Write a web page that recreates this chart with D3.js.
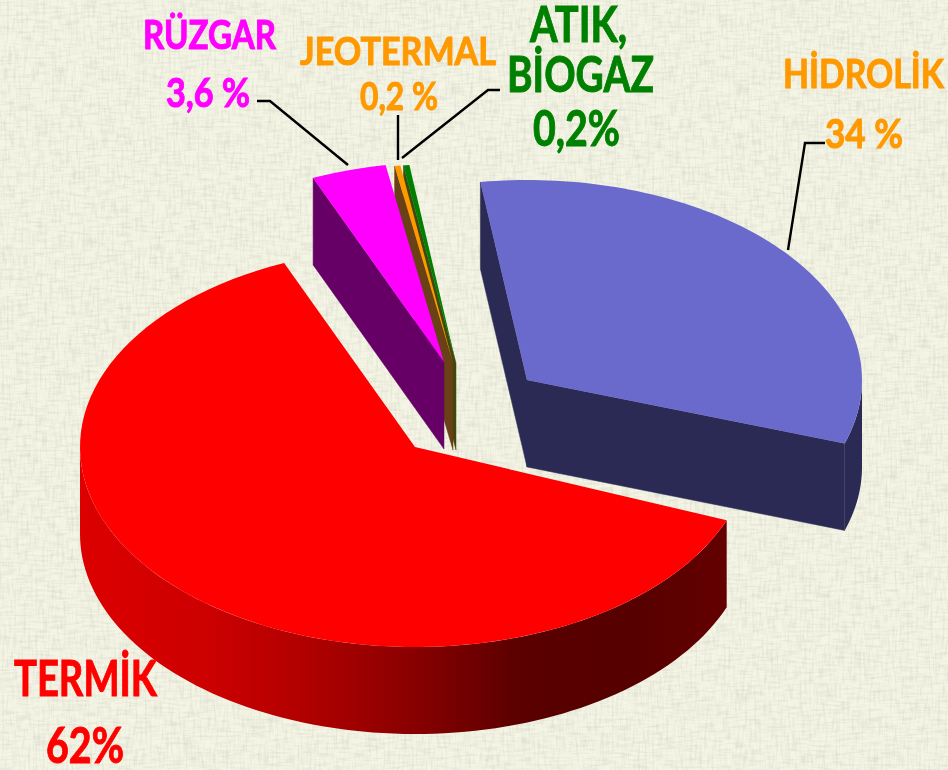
<!DOCTYPE html>
<html><head><meta charset="utf-8">
<script src="https://cdn.jsdelivr.net/npm/d3@7/dist/d3.min.js"></script>
<style>html,body{margin:0;padding:0;background:#f3f3e3}svg{display:block}text{font-family:Lato,sans-serif;font-weight:700}</style>
</head><body><svg id="c" width="948" height="770"></svg>
<script>
// ---- data ----
const categories = ["TERMİK", "RÜZGAR", "JEOTERMAL", "ATIK, BİOGAZ", "HİDROLİK"];
const values = [62, 3.6, 0.2, 0.2, 34];
const valueLabels = ["62%", "3,6 %", "0,2 %", "0,2%", "34 %"];
const topColors = ["#ff0000", "#ff00ff", "#ff9900", "#008000", "#6b6bcc"];
const sideColors = ["#800000", "#660066", "#6b3f12", "#3d4a10", "#2c2c55"];

// ---- layout ----
const W = 948, H = 770, depth = 87, rad = d3.scaleLinear().domain([0, 360]).range([0, 2 * Math.PI]);
const px = d3.scaleLinear().domain([-1, 1]).range([-335, 335]);
const py = d3.scaleLinear().domain([-1, 1]).range([-200, 200]);
const apexX = [415, 444, 453, 456, 527], apexY = [447, 362, 363, 363, 380];
// perspective of the drawing: pie angle (deg) -> drawn angle (deg)
const warp = d3.scaleLinear().domain([111.5, 334.7, 347.7, 348.4, 349.1, 471.5])
  .range([111.5, 337, 350, 351, 352, 468.5]);
const svg = d3.select("#c");
const defs = svg.append("defs");

// linen background
function weave(id, freq, seed) {
  const f = defs.append("filter").attr("id", id).attr("x", 0).attr("y", 0).attr("width", 1).attr("height", 1);
  f.append("feTurbulence").attr("type", "fractalNoise").attr("baseFrequency", freq).attr("numOctaves", 2).attr("seed", seed);
  f.append("feColorMatrix").attr("values", "0 0 0 0 0.42  0 0 0 0 0.42  0 0 0 0 0.36  2.4 0 0 0 -1.05");
}
weave("wv", "0.42 0.06", 4); weave("wh", "0.06 0.42", 9);
const soft = (id, s) => defs.append("filter").attr("id", id).attr("x", "-5%").attr("y", "-5%").attr("width", "110%").attr("height", "110%")
  .append("feGaussianBlur").attr("stdDeviation", s);
soft("soft", 0.55); soft("soft2", 0.6);
const wallGrad = defs.append("linearGradient").attr("id", "wall").attr("gradientUnits", "userSpaceOnUse")
  .attr("x1", 82).attr("x2", 728).attr("y1", 0).attr("y2", 0);
[[0, "#dc0000"], [.2, "#cc0000"], [.35, "#b00000"], [.5, "#8c0000"], [.68, "#5a0000"], [.85, "#560000"], [1, "#640000"]]
  .forEach(s => wallGrad.append("stop").attr("offset", s[0]).attr("stop-color", s[1]));

svg.append("rect").attr("width", W).attr("height", H).attr("fill", "#f5f5e6");
svg.append("rect").attr("width", W).attr("height", H).attr("filter", "url(#wv)").attr("opacity", .2);
svg.append("rect").attr("width", W).attr("height", H).attr("filter", "url(#wh)").attr("opacity", .2);

// ---- pie ----
const arcs = d3.pie().sort(null).value(d => d).startAngle(rad(111.5)).endAngle(rad(471.5))(values)
  .map(a => ({ a0: rad(warp(rad.invert(a.startAngle))), a1: rad(warp(rad.invert(a.endAngle))) }));
const line = d3.line();
const P = (i, a, dz = 0) => [apexX[i] + px(Math.sin(a)), apexY[i] - py(Math.cos(a)) + dz];
const arcPts = (i, a0, a1, dz = 0) => d3.range(0, 91).map(k => P(i, a0 + (a1 - a0) * k / 90, dz));
const apex = (i, dz = 0) => [apexX[i], apexY[i] + dz];

const g = svg.append("g").attr("filter", "url(#soft)");
// back to front
[3, 2, 1, 4, 0].forEach(i => {
  const { a0, a1 } = arcs[i];
  const s = g.append("g").datum(categories[i]);
  // a cut face shows only if it faces the viewer
  const face = a => s.append("path").attr("fill", sideColors[i]).attr("stroke", sideColors[i]).attr("stroke-width", .5)
    .attr("d", line([apex(i), P(i, a), P(i, a, depth), apex(i, depth)]) + "Z");
  if (Math.sin(a0) < 0) face(a0);
  if (Math.sin(a1) > 0) face(a1);
  // outer wall: only where the rim faces front
  [[90, 270], [450, 630]].forEach(w => {
    const v0 = Math.max(a0, rad(w[0])), v1 = Math.min(a1, rad(w[1]));
    if (v1 > v0) s.append("path").attr("fill", i === 0 ? "url(#wall)" : sideColors[i])
      .attr("d", line([...arcPts(i, v0, v1), ...arcPts(i, v1, v0, depth)]) + "Z");
  });
  s.append("path").attr("fill", topColors[i]).attr("d", line([apex(i), ...arcPts(i, a0, a1)]) + "Z");
});

// ---- leader lines ----
const leaders = [
  [[257, 101], [270, 101], [348, 165]],
  [[398, 115], [398, 160]],
  [[500, 90], [488, 90], [402, 158]],
  [[825, 143], [805, 143], [788, 250]]
];
const t = svg.append("g").attr("filter", "url(#soft2)");
t.selectAll("path.l").data(leaders).join("path").attr("class", "l").attr("fill", "none")
  .attr("stroke", "#000").attr("stroke-width", 2.4).attr("d", d => line(d));

// ---- labels ----
const labels = [
  { s: categories[0], x: 14, w: 143, y: 696, size: 50, c: "#ff0000" },
  { s: valueLabels[0], x: 46, w: 78, y: 763, size: 50, c: "#ff0000" },
  { s: categories[1], x: 143, w: 133, y: 49, size: 40, c: "#ff00ff" },
  { s: valueLabels[1], x: 166, w: 84, y: 107, size: 40, c: "#ff00ff" },
  { s: categories[2], x: 300, w: 196, y: 65, size: 39, c: "#ff9900" },
  { s: valueLabels[2], x: 360, w: 78, y: 110, size: 39, c: "#ff9900" },
  { s: "ATIK,", x: 530, w: 97, y: 42, size: 50, c: "#008000" },
  { s: "BİOGAZ", x: 507, w: 147, y: 92, size: 50, c: "#008000" },
  { s: valueLabels[3], x: 533, w: 87, y: 146, size: 50, c: "#008000" },
  { s: categories[4], x: 783, w: 161, y: 88, size: 41, c: "#ff9900" },
  { s: valueLabels[4], x: 825, w: 78, y: 148, size: 41, c: "#ff9900" }
];
t.selectAll("text").data(labels).join("text")
  .attr("x", d => d.x).attr("y", d => d.y).attr("font-size", d => d.size).attr("fill", d => d.c)
  .attr("stroke", d => d.c).attr("stroke-width", 1)
  .attr("textLength", d => d.w).attr("lengthAdjust", "spacingAndGlyphs").text(d => d.s);
</script></body></html>
